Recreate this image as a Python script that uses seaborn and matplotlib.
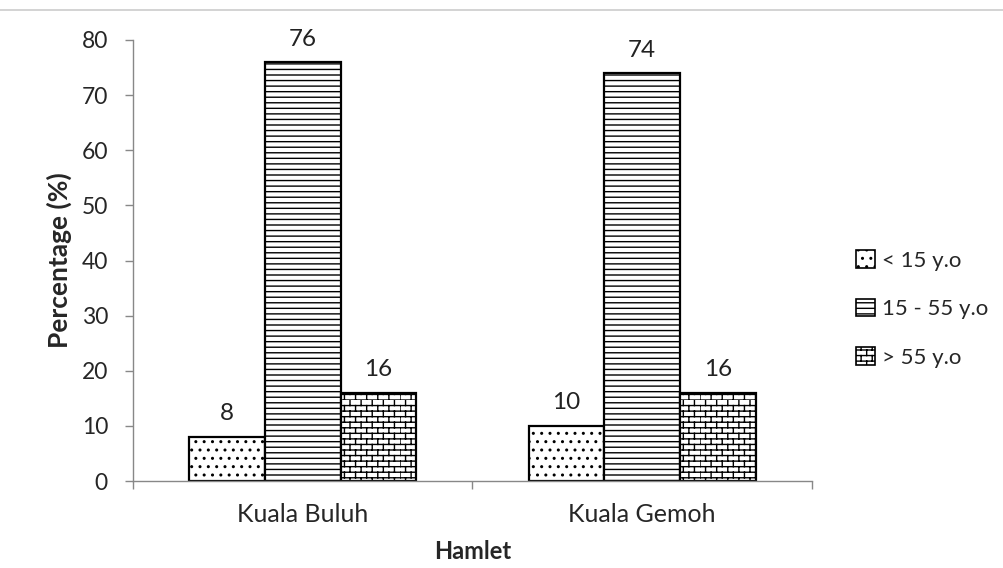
import warnings
import numpy as np
import matplotlib
matplotlib.use("Agg")
import matplotlib.pyplot as plt
import matplotlib.hatch as mhatch
from matplotlib.path import Path
import seaborn as sns
import pandas as pd
from matplotlib.lines import Line2D
from matplotlib.patches import Patch

warnings.filterwarnings("ignore")

hamlets = ["Kuala Buluh", "Kuala Gemoh"]
age_groups = ["< 15 y.o", "15 - 55 y.o", "> 55 y.o"]
values_lt15 = [8, 10]
values_15_55 = [76, 74]
values_gt55 = [16, 16]


class BrickHatch(mhatch.HatchPatternBase):
    """Brick-wall hatch, triggered by the character 'b'."""
    def __init__(self, hatch, density):
        self.rows = 18 if "b" in hatch else 0
        self.cols = 9
        self.num_vertices = (2 * self.rows + 2 * self.rows * self.cols) if self.rows else 0

    def set_vertices_and_codes(self, vertices, codes):
        n, m = self.rows, self.cols
        k = 0
        for i in range(n):
            y0, y1 = i / n, (i + 1) / n
            vertices[k] = (0, y0); vertices[k + 1] = (1, y0)
            codes[k] = Path.MOVETO; codes[k + 1] = Path.LINETO
            k += 2
            off = 0 if i % 2 == 0 else 0.5 / m
            for j in range(m):
                x = j / m + off
                vertices[k] = (x, y0); vertices[k + 1] = (x, y1)
                codes[k] = Path.MOVETO; codes[k + 1] = Path.LINETO
                k += 2


mhatch._hatch_types.append(BrickHatch)

rows = []
for i, h in enumerate(hamlets):
    for g, vals in zip(age_groups, [values_lt15, values_15_55, values_gt55]):
        rows.append({"Hamlet": h, "Age": g, "Percentage": vals[i]})
df = pd.DataFrame(rows)

sns.set_style("white")
plt.rcParams['font.family'] = ['Lato', 'DejaVu Sans']
plt.rcParams['hatch.linewidth'] = 1.0

fig = plt.figure(figsize=(10.04, 5.68), dpi=100)
ax = fig.add_axes([133/1004, 1 - 481/568, (812-133)/1004, (481-40)/568])

sns.barplot(data=df, x="Hamlet", y="Percentage", hue="Age", order=hamlets,
            hue_order=age_groups, palette=["white"]*3, width=0.67,
            edgecolor="black", linewidth=1.6, ax=ax, legend=False, saturation=1)

hatches = ["..", "---", "b"]
for cont, hatch in zip(ax.containers, hatches):
    for bar in cont:
        bar.set_hatch(hatch)
    ax.bar_label(cont, padding=9, fontsize=17.5, color="#222222")

ax.set_ylim(0, 80)
ax.set_xlim(-0.5, 1.5)
ax.set_yticks(range(0, 81, 10))
ax.tick_params(axis="y", labelsize=16.5, length=6, width=1, color="#888888", direction="out", left=True, pad=12)
ax.set_xticks([0, 1])
ax.set_xticks([-0.5, 0.5, 1.5], minor=True)
ax.tick_params(axis="x", which="major", length=0, labelsize=18, pad=16)
ax.tick_params(axis="x", which="minor", length=6, width=1, color="#888888", direction="out", bottom=True)
for s in ["top", "right"]:
    ax.spines[s].set_visible(False)
for s in ["left", "bottom"]:
    ax.spines[s].set_color("#888888")
    ax.spines[s].set_linewidth(1)

ax.set_xlabel("Hamlet", fontsize=17, fontweight="bold", labelpad=10)
ax.set_ylabel("Percentage (%)", fontsize=19, fontweight="bold", labelpad=7)

handles = [Patch(facecolor="white", edgecolor="black", hatch=h, linewidth=1.2) for h in hatches]
fig.legend(handles, age_groups, loc="center left", bbox_to_anchor=(836/1004, 1 - 309/568),
           frameon=False, fontsize=16, handlelength=0.85, handleheight=0.85,
           handletextpad=0.3, labelspacing=1.25)

fig.add_artist(Line2D([0, 1], [1 - 10/568, 1 - 10/568], color="#cccccc", linewidth=1.2,
                      transform=fig.transFigure))

fig.savefig("out.png", dpi=100)
